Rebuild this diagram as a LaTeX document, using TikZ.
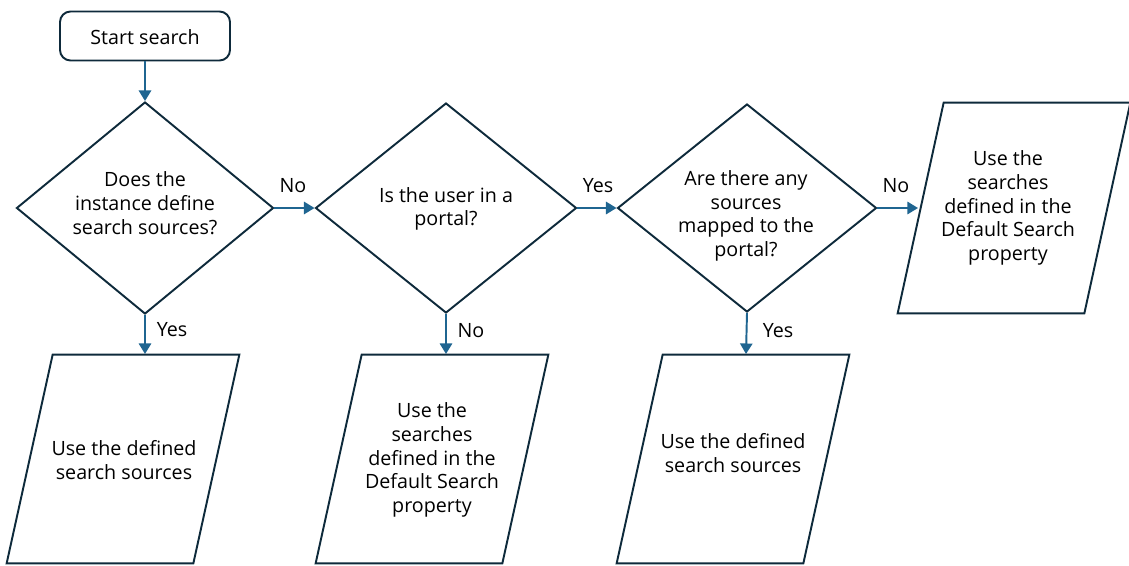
\documentclass[tikz,border=0pt]{standalone}
\usepackage{fontspec}
\setmainfont{Open Sans}
\usetikzlibrary{arrows.meta,shapes.geometric}
\definecolor{edge}{HTML}{0E2A3B}
\definecolor{arr}{HTML}{1F6591}
\tikzset{
  x=0.02cm, y=-0.02cm,
  shape line/.style={draw=edge, line width=1.1pt, line join=miter},
  startbox/.style={shape line, rounded corners=6pt, minimum width=170*0.02cm, minimum height=49*0.02cm, inner sep=0pt},
  decision/.style={shape line, diamond, inner sep=0pt},
  iobox/.style={inner sep=0pt, minimum width=232*0.02cm, minimum height=208*0.02cm},
  txt/.style={align=center, font=\fontsize{11.2pt}{13.5pt}\selectfont, inner sep=0pt},
  flow/.style={draw=arr, line width=1.1pt, -{Triangle[length=6pt,width=7pt]}},
  lbl/.style={font=\fontsize{11.2pt}{12pt}\selectfont, inner sep=0pt},
}
\begin{document}
\begin{tikzpicture}
\useasboundingbox (0,0) rectangle (1129,565);
% start
\node[startbox] (start) at (145,36) {};
\node[txt] (starttxt) at (145,37) {Start search};
% decisions
\node[decision, minimum width=257*0.02cm, minimum height=212*0.02cm] (d1) at (145,208) {};
\node[txt] (d1t) at (145,203) {Does the\\instance define\\search sources?};
\node[decision, minimum width=261*0.02cm, minimum height=210*0.02cm] (d2) at (446,208) {};
\node[txt] (d2t) at (446,209) {Is the user in a\\portal?};
\node[decision, minimum width=259*0.02cm, minimum height=208*0.02cm] (d3) at (747,208) {};
\node[txt] (d3t) at (746,216) {Are there any\\sources\\mapped to the\\portal?};
% io boxes
\node[iobox] (p1) at (123,459) {};
\node[iobox] (p2) at (432,459) {};
\node[iobox] (p3) at (733,459) {};
\node[iobox, minimum height=210*0.02cm] (p4) at (1014,208) {};
\foreach \p in {p1,p2,p3,p4}{
  \draw[shape line] ([xshift=46*0.02cm]\p.north west) -- (\p.north east)
    -- ([xshift=-46*0.02cm]\p.south east) -- (\p.south west) -- cycle;
}
\node[txt] (p1t) at (124,460) {Use the defined\\search sources};
\node[txt] (p2t) at (432,460) {Use the\\searches\\defined in the\\Default Search\\property};
\node[txt] (p3t) at (733,453) {Use the defined\\search sources};
\node[txt] (p4t) at (1008,208) {Use the\\searches\\defined in the\\Default Search\\property};
% connectors
\coordinate (p1top) at (145,354);
\coordinate (p2top) at (446,354);
\coordinate (p3top) at (746,354);
\coordinate (p4left) at (918,208);
\draw[flow] (start.south) -- (d1.north);
\draw[flow] (d1.south) -- (p1top);
\draw[flow] (d1.east) -- (d2.west);
\draw[flow] (d2.south) -- (p2top);
\draw[flow] (d2.east) -- (d3.west);
\draw[flow] (d3.south) -- (p3top);
\draw[flow] (d3.east) -- (p4left);
% labels
\node[lbl] (l1) at (293,186) {No};
\node[lbl] (l2) at (172,330) {Yes};
\node[lbl] (l3) at (598,186) {Yes};
\node[lbl] (l4) at (471,331) {No};
\node[lbl] (l5) at (896,186) {No};
\node[lbl] (l6) at (778,331) {Yes};
\end{tikzpicture}
\end{document}
